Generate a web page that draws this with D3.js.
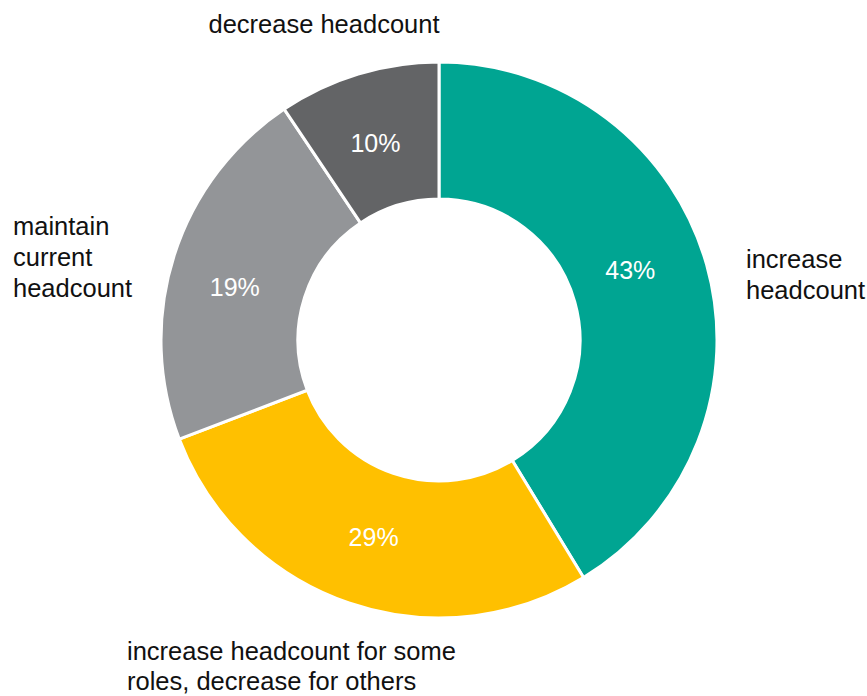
<!DOCTYPE html>
<html>
<head>
<meta charset="utf-8">
<script src="https://cdn.jsdelivr.net/npm/d3@7"></script>
<style>
  body { margin: 0; background: #fff; }
  text { font-family: "Liberation Sans", Arial, Helvetica, sans-serif; }
</style>
</head>
<body>
<svg id="chart" width="867" height="696"></svg>
<script>
const categories = ["increase headcount", "increase headcount for some roles, decrease for others", "maintain current headcount", "decrease headcount"]
const shares = [41.3, 27.9, 21.4, 9.4]
const pctLabels = ["43%", "29%", "19%", "10%"]
const colors = ["#00a592", "#ffc000", "#939598", "#636466"]

// lignes des étiquettes de catégorie
const labelLines = [
    ["increase", "headcount"],
    ["increase headcount for some", "roles, decrease for others"],
    ["maintain", "current", "headcount"],
    ["decrease headcount"]
]

const svg = d3.select("#chart")
const cx = 439, cy = 340
const outerR = 278, innerR = 141

const slices = categories.map((c, i) => ({ cat: c, value: shares[i], label: pctLabels[i], color: colors[i], lines: labelLines[i] }))

const pie = d3.pie()
    .sort(null)
    .value(d => d.value)

const arc = d3.arc()
    .innerRadius(innerR)
    .outerRadius(outerR)

const labelArc = d3.arc()
    .innerRadius(208)
    .outerRadius(208)

// petits décalages des pourcentages (comme dans l'original)
const pctNudge = [[-9, -14], [2, 0], [-6, 10], [-3, 2]]

const g = svg.append("g")
    .attr("transform", `translate(${cx}, ${cy})`)

const arcs = pie(slices)

g.selectAll("path")
    .data(arcs)
    .enter()
    .append("path")
    .attr("d", arc)
    .attr("fill", d => d.data.color)
    .attr("stroke", "#fff")
    .attr("stroke-width", 3)

g.selectAll("text.pct")
    .data(arcs)
    .enter()
    .append("text")
    .attr("class", "pct")
    .attr("transform", (d, i) => {
        const c = labelArc.centroid(d)
        return `translate(${c[0] + pctNudge[i][0]}, ${c[1] + pctNudge[i][1]})`
    })
    .attr("text-anchor", "middle")
    .attr("dy", "0.35em")
    .attr("fill", "#fff")
    .style("font-size", "25px")
    .text(d => d.data.label)

// Étiquettes de catégorie autour de l'anneau
const catPos = [
    { x: 746, y: 268, anchor: "start", step: 31 },
    { x: 127, y: 660, anchor: "start", step: 30 },
    { x: 13, y: 235, anchor: "start", step: 31 },
    { x: 324, y: 33, anchor: "middle", step: 31 }
]

slices.forEach((s, i) => {
    const t = svg.append("text")
        .attr("x", catPos[i].x)
        .attr("y", catPos[i].y)
        .attr("text-anchor", catPos[i].anchor)
        .attr("fill", "#111")
        .style("font-size", "25.5px")
    s.lines.forEach((line, j) => {
        t.append("tspan")
            .attr("x", catPos[i].x)
            .attr("dy", j === 0 ? 0 : catPos[i].step)
            .text(line)
    })
})
</script>
</body>
</html>
